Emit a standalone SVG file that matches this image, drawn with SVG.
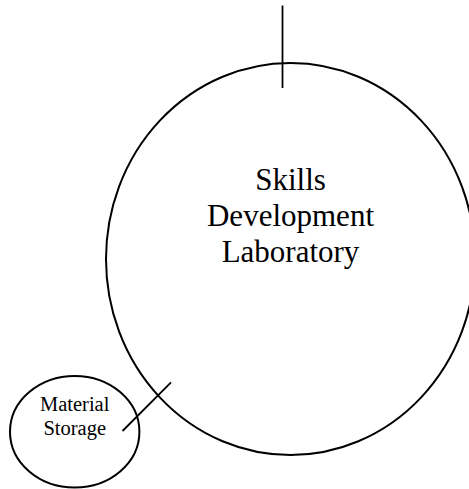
<svg xmlns="http://www.w3.org/2000/svg" width="469" height="489" viewBox="0 0 469 489">
<style>
.shape{fill:none;stroke:#000;stroke-width:2}
.conn{fill:none;stroke:#000;stroke-width:1.8}
.lbl{font-family:"Liberation Serif","Times New Roman",serif;fill:#000;text-anchor:middle}
</style>
<rect width="469" height="489" fill="#fff"/>
<g id="connectors">
<line class="conn" x1="282.5" y1="5.5" x2="282.5" y2="88"/>
<line class="conn" x1="122.5" y1="431" x2="171" y2="382.3"/>
</g>
<g id="skills-lab">
<ellipse class="shape" cx="290.5" cy="259" rx="184.5" ry="196"/>
<text class="lbl" font-size="31" x="290.5" y="190">Skills</text>
<text class="lbl" font-size="31" x="290.5" y="226">Development</text>
<text class="lbl" font-size="31" x="290.5" y="262">Laboratory</text>
</g>
<g id="material-storage">
<ellipse class="shape" cx="74.7" cy="431.8" rx="64.7" ry="55.8"/>
<text class="lbl" font-size="20.5" x="74.7" y="410.7">Material</text>
<text class="lbl" font-size="20.5" x="74.7" y="435">Storage</text>
</g>
</svg>
